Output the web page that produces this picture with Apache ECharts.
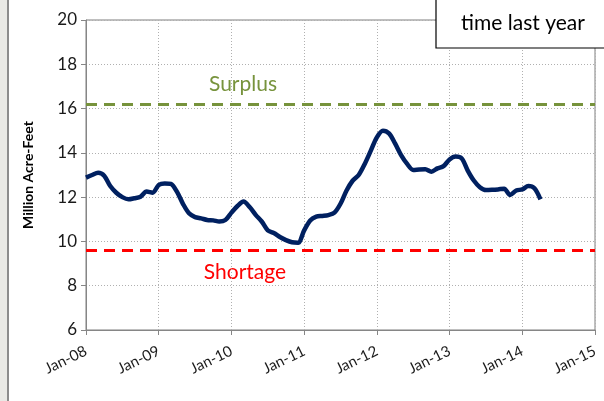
<!DOCTYPE html>
<html>
<head>
<meta charset="utf-8">
<script src="https://cdn.jsdelivr.net/npm/echarts@6/dist/echarts.min.js"></script>
<style>
  html, body { margin: 0; padding: 0; background: #fff; }
  #chart { width: 604px; height: 401px; }
</style>
</head>
<body>
<div id="chart"></div>
<script>
// monthly categories Jan-08 .. Jan-15
var monthNames = ['Jan', 'Feb', 'Mar', 'Apr', 'May', 'Jun', 'Jul', 'Aug', 'Sep', 'Oct', 'Nov', 'Dec'];
var months = [];
for (var y = 8; y <= 15; y++) {
  for (var m = 0; m < 12; m++) {
    months.push(monthNames[m] + '-' + (y < 10 ? '0' + y : y));
    if (y === 15) break;
  }
}

// storage, million acre-feet (Jan-08 .. Apr-14)
var storage = [
  12.88, 13.0, 13.1, 12.97, 12.5, 12.2, 12.0, 11.9, 11.95, 12.02, 12.25, 12.2,
  12.55, 12.62, 12.6, 12.25, 11.7, 11.27, 11.1, 11.04, 10.97, 10.95, 10.9, 10.97,
  11.3, 11.6, 11.8, 11.55, 11.2, 10.9, 10.5, 10.38, 10.2, 10.06, 9.96, 9.94,
  10.5, 10.95, 11.12, 11.15, 11.19, 11.3, 11.7, 12.3, 12.74, 13.0, 13.5, 14.1,
  14.7, 15.0, 14.88, 14.43, 13.9, 13.5, 13.23, 13.25, 13.26, 13.15, 13.3, 13.4,
  13.7, 13.83, 13.75, 13.2, 12.75, 12.45, 12.32, 12.33, 12.35, 12.38, 12.1, 12.3,
  12.35, 12.5, 12.4, 11.9
];

var surplusLevel = 16.2;
var shortageLevel = 9.6;

var chart = echarts.init(document.getElementById('chart'));

chart.setOption({
  backgroundColor: '#fff',
  animation: false,
  textStyle: { fontFamily: 'Lato' },
  grid: { left: 86, right: 9, top: 20, bottom: 71, show: true, borderColor: '#7f7f7f', borderWidth: 1 },
  xAxis: {
    type: 'category',
    boundaryGap: false,
    data: months,
    axisLine: { lineStyle: { color: '#868686', width: 1 } },
    axisTick: { show: true, interval: 11, length: 5, lineStyle: { color: '#868686' } },
    axisLabel: {
      interval: 11,
      rotate: 26,
      color: '#1a1a1a',
      fontSize: 15,
      margin: 20,
      fontFamily: 'Lato'
    },
    splitLine: {
      show: true,
      interval: 11,
      lineStyle: { color: '#b0b0b0', type: [1, 2], width: 1 }
    }
  },
  yAxis: {
    type: 'value',
    min: 6,
    max: 20,
    interval: 2,
    name: 'Million Acre-Feet',
    nameLocation: 'middle',
    nameGap: 51,
    nameTextStyle: { fontWeight: 'bold', fontSize: 14, color: '#000', fontFamily: 'Lato' },
    axisLine: { show: true, lineStyle: { color: '#868686', width: 1 } },
    axisTick: { show: true, length: 5, lineStyle: { color: '#868686' } },
    axisLabel: { color: '#1a1a1a', fontSize: 17, margin: 9, fontFamily: 'Lato' },
    splitLine: { show: true, lineStyle: { color: '#b0b0b0', type: [1, 2], width: 1 } }
  },
  series: [{
    name: 'Storage',
    type: 'line',
    data: storage,
    smooth: 0.3,
    showSymbol: false,
    lineStyle: { color: '#002060', width: 4.5 },
    z: 3,
    markLine: {
      silent: true,
      symbol: 'none',
      label: { show: false },
      data: [
        { yAxis: surplusLevel, lineStyle: { color: '#77933c', width: 3, type: [11, 7] } },
        { yAxis: shortageLevel, lineStyle: { color: '#ff0000', width: 3, type: [11, 7] } }
      ]
    }
  }],
  graphic: [
    { type: 'rect', shape: { x: 0, y: 0, width: 7, height: 401 }, style: { fill: '#e9e9e5' } },
    { type: 'rect', shape: { x: 7, y: 0, width: 2, height: 401 }, style: { fill: '#8c8c8c' } },
    { type: 'text', x: 243, y: 84, style: { text: 'Surplus', fill: '#77933c', fontSize: 21, fontFamily: 'Lato', align: 'center', verticalAlign: 'middle' } },
    { type: 'text', x: 245, y: 272, style: { text: 'Shortage', fill: '#ff0000', fontSize: 21, fontFamily: 'Lato', align: 'center', verticalAlign: 'middle' } },
    { type: 'rect', shape: { x: 436, y: -5, width: 175, height: 53 }, style: { fill: '#fff', stroke: '#000', lineWidth: 1.2 }, z: 10 },
    { type: 'text', x: 523, y: 23, style: { text: 'time last year', fill: '#000', fontSize: 21, fontFamily: 'Lato', align: 'center', verticalAlign: 'middle' }, z: 11 }
  ]
});
</script>
</body>
</html>
